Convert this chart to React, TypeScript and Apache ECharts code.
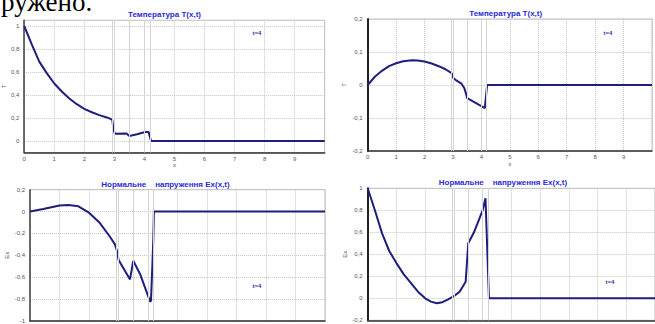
import React, { useEffect, useRef } from "react";
import * as echarts from "echarts";

// Layer boundaries (x positions of solid vertical lines)
const layerBounds = [2.93, 3.0, 3.5, 4.0, 4.18];

// Panel 1: Temperature T(x,t), t=4
const temp1X = [0, 0.25, 0.5, 0.75, 1, 1.25, 1.5, 1.75, 2, 2.25, 2.5, 2.75, 2.85, 2.93, 2.97, 3.02, 3.4, 3.5, 3.75, 4.03, 4.14, 4.22, 10];
const temp1Y = [1.0, 0.84, 0.69, 0.59, 0.5, 0.43, 0.37, 0.32, 0.28, 0.25, 0.225, 0.205, 0.195, 0.185, 0.1, 0.062, 0.066, 0.044, 0.058, 0.078, 0.078, 0, 0];

// Panel 2: Temperature T(x,t), t=4 (second case)
const temp2X = [0, 0.25, 0.5, 0.75, 1, 1.25, 1.55, 1.75, 2, 2.25, 2.5, 2.75, 2.95, 3.02, 3.1, 3.3, 3.4, 3.47, 3.5, 4.12, 4.2, 10];
const temp2Y = [0, 0.025, 0.043, 0.057, 0.066, 0.072, 0.075, 0.074, 0.071, 0.065, 0.057, 0.047, 0.036, 0.02, 0.015, 0.004, -0.01, -0.03, -0.04, -0.07, 0, 0];

// Panel 3: Normal stress Ex(x,t)
const ex1X = [0, 0.45, 1.0, 1.3, 1.64, 2.0, 2.37, 2.71, 2.88, 2.96, 3.0, 3.39, 3.5, 3.73, 4.07, 4.1, 4.15, 4.18, 4.2, 10];
const ex1Y = [0, 0.024, 0.055, 0.06, 0.048, -0.01, -0.105, -0.23, -0.3, -0.37, -0.44, -0.62, -0.45, -0.57, -0.82, -0.82, -0.48, -0.25, 0, 0];

// Panel 4: Normal stress Ex(x,t) (second case)
const ex2X = [0, 0.25, 0.5, 0.75, 1.0, 1.25, 1.5, 1.75, 2.0, 2.2, 2.4, 2.6, 2.8, 3.0, 3.2, 3.41, 3.5, 3.7, 4.0, 4.1, 4.22, 10];
const ex2Y = [1.0, 0.8, 0.59, 0.43, 0.32, 0.22, 0.14, 0.06, 0.0, -0.03, -0.045, -0.035, -0.01, 0.02, 0.06, 0.15, 0.5, 0.6, 0.8, 0.91, 0, 0];

const xTickLabels = ["0", "1", "2", "3", "4", "5", "6", "7", "8", "9"];
const yTicks1 = [0, 0.2, 0.4, 0.6, 0.8, 1];

const titleTemp = "Температура T(x,t)";
const titleStress = "Нормальне    напруження Ex(x,t)";
const timeLabel = "t=4";

const zip = (xs: number[], ys: number[]) => xs.map((x, i) => [x, ys[i]]);
const fmt = (v: number) => {
  const r = Math.round(v * 1000) / 1000;
  return String(r).replace(".", ",");
};

export default function App() {
  const ref = useRef<HTMLDivElement>(null);
  useEffect(() => {
    if (!ref.current) return;
    const chart = echarts.init(ref.current, null, { renderer: "svg" });

    const grids = [
      { left: 22.3, top: 20.25, width: 302.4, height: 132.25 },
      { left: 367.7, top: 19, width: 295, height: 132 },
      { left: 30, top: 189.7, width: 295, height: 132 },
      { left: 367.7, top: 188.3, width: 295, height: 132 },
    ];

    const axisFont = { fontSize: 6, color: "#555", fontFamily: "Arial" };
    const splitLine = { show: true, lineStyle: { color: "#c4c4c4", type: "dotted" as const, width: 1 } };

    const xAxes = grids.map((_, i) => ({
      type: "value" as const,
      gridIndex: i,
      min: 0,
      max: 10,
      interval: 1,
      name: i < 2 ? "x" : "",
      nameLocation: "middle" as const,
      nameGap: 9,
      nameTextStyle: { fontSize: 6, color: "#555" },
      axisLine: { show: true, onZero: false, lineStyle: { color: "#333", width: 1.5 } },
      axisTick: { show: false },
      axisLabel: {
        ...axisFont,
        show: i < 2,
        margin: 3,
        formatter: (v: number) => (v < 10 ? xTickLabels[Math.round(v)] : ""),
      },
      splitLine,
    }));

    const yCfg = [
      { min: -0.1, max: 1.05, name: "T", gap: 14, custom: yTicks1 },
      { min: -0.2, max: 0.2, interval: 0.1, name: "T", gap: 21 },
      { min: -1, max: 0.2, interval: 0.2, name: "Ex", gap: 20 },
      { min: -0.2, max: 1, interval: 0.2, name: "Ex", gap: 17 },
    ];

    const yAxes = yCfg.map((c, i) => {
      const base: any = {
        type: "value",
        gridIndex: i,
        min: c.min,
        max: c.max,
        name: c.name,
        nameLocation: "middle",
        nameGap: c.gap,
        nameTextStyle: { fontSize: 6, color: "#555" },
        axisLine: { show: true, onZero: false, lineStyle: { color: i % 2 === 1 ? "#222" : "#444", width: i % 2 === 1 ? 2 : 1.5 } },
        axisTick: { show: false },
        axisLabel: { ...axisFont, margin: 5, formatter: (v: number) => fmt(v) },
        splitLine,
      };
      if (c.custom) {
        base.axisLabel.customValues = c.custom;
        base.axisTick.customValues = c.custom;
      } else {
        base.interval = c.interval;
      }
      return base;
    });

    const datasets = [zip(temp1X, temp1Y), zip(temp2X, temp2Y), zip(ex1X, ex1Y), zip(ex2X, ex2Y)];
    const series: any[] = [];
    datasets.forEach((d, i) => {
      series.push({
        type: "line",
        xAxisIndex: i,
        yAxisIndex: i,
        data: [],
        z: 1,
        silent: true,
        markLine: {
          silent: true,
          symbol: "none",
          label: { show: false },
          lineStyle: { color: "#d4d4d4", type: "solid", width: 1 },
          data: layerBounds.map((x) => ({ xAxis: x })),
        },
      });
      series.push({
        type: "line",
        xAxisIndex: i,
        yAxisIndex: i,
        data: d,
        showSymbol: false,
        symbol: "none",
        z: 3,
        lineStyle: { color: "#1e1e7c", width: 2 },
      });
    });

    const titleStyle = (text: string, x: number, y: number) => ({
      type: "text",
      x,
      y,
      z: 10,
      style: {
        text,
        font: "bold 8px Arial",
        fill: "#2a2ad6",
        align: "center",
        verticalAlign: "middle",
        textAlign: "center",
        textVerticalAlign: "middle",
      },
    });
    const tStyle = (x: number, y: number) => ({
      type: "text",
      x,
      y,
      z: 10,
      style: {
        text: timeLabel,
        font: "bold 6px Arial",
        fill: "#3434a8",
        align: "center",
        verticalAlign: "middle",
        textAlign: "center",
        textVerticalAlign: "middle",
      },
    });

    chart.setOption({
      animation: false,
      backgroundColor: "#ffffff",
      grid: grids.map((g) => ({ ...g, show: true, borderColor: "#bdbdbd", borderWidth: 1, containLabel: false })),
      xAxis: xAxes,
      yAxis: yAxes,
      series,
      graphic: [
        {
          type: "text",
          x: 1,
          y: 2,
          z: 10,
          style: {
            text: "ружено.",
            font: "27px 'Liberation Serif'",
            fill: "#000",
            align: "left",
            verticalAlign: "middle",
            textAlign: "left",
            textVerticalAlign: "middle",
          },
        },
        titleStyle(titleTemp, 164.5, 14.7),
        titleStyle(titleTemp, 505.7, 13.3),
        titleStyle(titleStress, 165.5, 184.3),
        titleStyle(titleStress, 503, 182),
        tStyle(257, 33),
        tStyle(608, 33),
        tStyle(257, 286),
        tStyle(610, 282),
      ],
    });
    return () => chart.dispose();
  }, []);
  return <div ref={ref} style={{ position: "fixed", left: 0, top: 0, width: 655, height: 324, background: "#fff" }} />;
}
